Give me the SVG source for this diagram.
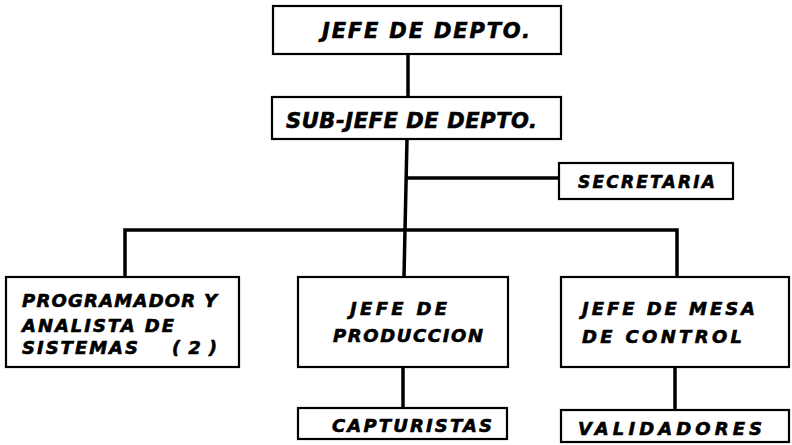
<svg xmlns="http://www.w3.org/2000/svg" width="792" height="445" viewBox="0 0 792 445">
<style>
.box{fill:#fff;stroke:#000;stroke-width:2.2}
.t{font-family:"DejaVu Sans","Liberation Sans",sans-serif;font-weight:bold;font-style:italic;fill:#000;stroke:#000;stroke-width:0.6}
.big{font-size:21px}
.mid{font-size:17px}
.sm{font-size:18px}
.c{fill:none;stroke:#000;stroke-width:3.5}
</style>
<rect width="792" height="445" fill="#fff"/>
<g id="connectors">
<line class="c" x1="408" y1="54" x2="408" y2="97"/>
<polyline class="c" points="407,139 405,230 404,277"/>
<line class="c" x1="406" y1="178" x2="559" y2="178"/>
<polyline class="c" points="125,277 125,230 677,230 677,277"/>
<line class="c" x1="403" y1="367" x2="403" y2="408"/>
<line class="c" x1="675" y1="367" x2="675" y2="410"/>
</g>
<g id="jefe-depto">
<rect class="box" x="273" y="6" width="288" height="48"/>
<text class="t big" x="322" y="38" textLength="208" lengthAdjust="spacing">JEFE DE DEPTO.</text>
</g>
<g id="sub-jefe">
<rect class="box" x="272" y="97" width="289" height="42"/>
<text class="t big" x="286" y="128" textLength="251" lengthAdjust="spacing">SUB-JEFE DE DEPTO.</text>
</g>
<g id="secretaria">
<rect class="box" x="559" y="163" width="174" height="36"/>
<text class="t mid" x="578" y="188" textLength="137" lengthAdjust="spacing">SECRETARIA</text>
</g>
<g id="programador">
<rect class="box" x="6" y="277" width="233" height="90"/>
<text class="t sm" x="22" y="307" textLength="195" lengthAdjust="spacing">PROGRAMADOR Y</text>
<text class="t sm" x="22" y="332" textLength="152" lengthAdjust="spacing">ANALISTA DE</text>
<text class="t sm" x="22" y="354" textLength="116" lengthAdjust="spacing">SISTEMAS</text>
<text class="t sm" x="172" y="354" textLength="45" lengthAdjust="spacing">(2)</text>
</g>
<g id="jefe-produccion">
<rect class="box" x="298" y="277" width="210" height="90"/>
<text class="t sm" x="350" y="315" textLength="97" lengthAdjust="spacing">JEFE DE</text>
<text class="t sm" x="333" y="342" textLength="150" lengthAdjust="spacing">PRODUCCION</text>
</g>
<g id="jefe-mesa">
<rect class="box" x="561" y="277" width="228" height="90"/>
<text class="t sm" x="582" y="315" textLength="173" lengthAdjust="spacing">JEFE DE MESA</text>
<text class="t sm" x="582" y="343" textLength="160" lengthAdjust="spacing">DE CONTROL</text>
</g>
<g id="capturistas">
<rect class="box" x="298" y="408" width="209" height="31"/>
<text class="t sm" x="332" y="432" textLength="160" lengthAdjust="spacing">CAPTURISTAS</text>
</g>
<g id="validadores">
<rect class="box" x="561" y="410" width="228" height="32"/>
<text class="t sm" x="578" y="435" textLength="184" lengthAdjust="spacing">VALIDADORES</text>
</g>
</svg>
